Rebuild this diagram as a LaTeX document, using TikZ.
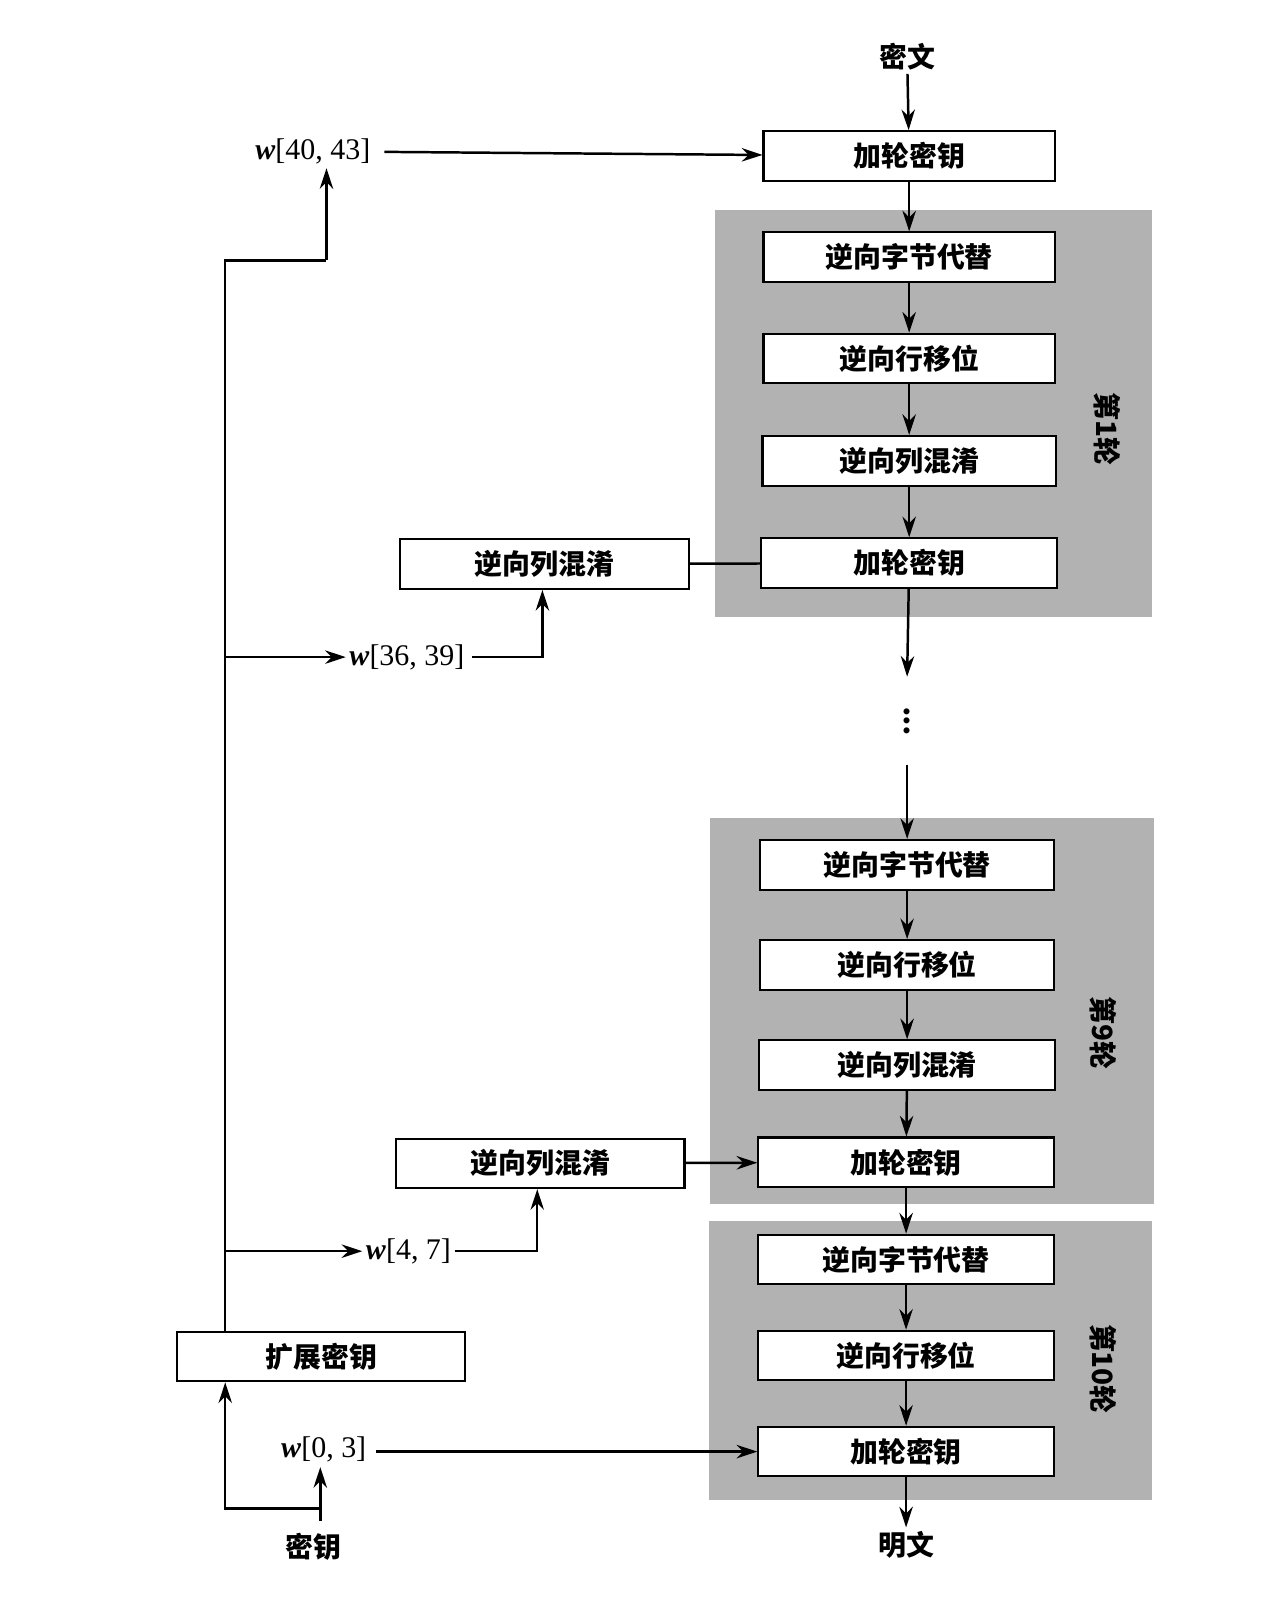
\documentclass[tikz,border=0pt]{standalone}
\usepackage{fontspec}
\setmainfont{Liberation Serif}
\newfontfamily\cjk{Noto Sans CJK SC}
\usetikzlibrary{arrows.meta}
\begin{document}
\begin{tikzpicture}[x=1pt,y=-1pt,
  bx/.style={draw,line width=2pt,fill=white,minimum height=48pt,inner sep=0pt,font=\cjk\bfseries\fontsize{27}{29}\selectfont},
  rnd/.style={fill=gray!60},
  lbl/.style={font=\fontsize{29}{31}\selectfont},
  cl/.style={font=\cjk\bfseries\fontsize{27}{29}\selectfont},
  ar/.style={line width=2.4pt,-{Stealth[length=20pt,width=13pt]}},
  ln/.style={line width=2.4pt}]
\useasboundingbox (0,0) rectangle (1240,1568);
\fill[white] (0,0) rectangle (1240,1568);
% gray rounds
\fill[rnd] (692,203) rectangle (1115,597);
\fill[rnd] (687,792) rectangle (1117,1165);
\fill[rnd] (686,1182) rectangle (1115,1452);
\node[cl,rotate=-90] (r1) at (1072,415) {第1轮};
\node[cl,rotate=-90] (r9) at (1068,1000) {第9轮};
\node[cl,rotate=-90] (r10) at (1068,1325) {第10轮};
% top
\node[cl] (ct) at (878,55) {密文};
\node[bx,minimum width=282pt] (a0) at (880,151) {加轮密钥};
% round 1
\node[bx,minimum width=282pt] (b1) at (880,249) {逆向字节代替};
\node[bx,minimum width=282pt] (b2) at (880,347) {逆向行移位};
\node[bx,minimum width=284pt] (b3) at (880,446) {逆向列混淆};
\node[bx,minimum width=286pt] (b4) at (880,545) {加轮密钥};
\node[bx,minimum width=280pt] (m1) at (527,546) {逆向列混淆};
% dots
\coordinate (d1) at (878,655);
\node[font=\bfseries\fontsize{36}{38}\selectfont] (dots) at (878,698) {\rotatebox{90}{...}};
\coordinate (d2) at (878,740);
% round 9
\node[bx,minimum width=285pt] (c1) at (878,837) {逆向字节代替};
\node[bx,minimum width=285pt] (c2) at (878,934) {逆向行移位};
\node[bx,minimum width=286pt] (c3) at (878,1031) {逆向列混淆};
\node[bx,minimum width=286pt] (c4) at (877,1125) {加轮密钥};
\node[bx,minimum width=279pt] (m9) at (523,1126) {逆向列混淆};
% round 10
\node[bx,minimum width=286pt] (e1) at (877,1219) {逆向字节代替};
\node[bx,minimum width=286pt] (e2) at (877,1312) {逆向行移位};
\node[bx,minimum width=286pt] (e3) at (877,1405) {加轮密钥};
\node[cl] (pt) at (877,1495) {明文};
% key side
\node[bx,minimum width=279pt] (ke) at (311,1313) {扩展密钥};
\node[cl] (key) at (303,1497) {密钥};
\node[lbl,anchor=east] (w0) at (358,1403) {\textbf{\textit{w}}[0, 3]};
\node[lbl,anchor=east] (w4) at (440,1211) {\textbf{\textit{w}}[4, 7]};
\node[lbl,anchor=east] (w36) at (453,636) {\textbf{\textit{w}}[36, 39]};
\node[lbl,anchor=east] (w40) at (362,147) {\textbf{\textit{w}}[40, 43]};
\coordinate (j) at (218,1460);
% connectors main
\draw[ar] (ct) -- (a0);
\draw[ar] (a0) -- (b1);
\draw[ar] (b1) -- (b2);
\draw[ar] (b2) -- (b3);
\draw[ar] (b3) -- (b4);
\draw[ar] (b4) -- (d1);
\draw[ar] (d2) -- (c1);
\draw[ar] (c1) -- (c2);
\draw[ar] (c2) -- (c3);
\draw[ar] (c3) -- (c4);
\draw[ar] (c4) -- (e1);
\draw[ar] (e1) -- (e2);
\draw[ar] (e2) -- (e3);
\draw[ar] (e3) -- (pt);
\draw[ln] (m1) -- (b4);
\draw[ar] (m9) -- (c4);
% key connectors
\draw[ar] (key.north -| 310,0) ++(0,-8) -- (310,1420);
\draw[ar] (310,1460) -- (j) -- (ke.south -| j);
\draw[ar] (w0.east) ++(6,2) -- (e3.west |- 0,1405);
\draw[ln] (ke.north -| j) -- (218,252) -- (316,252);
\draw[ar] (316,252) -- (w40.south -| 316,0);
\draw[ar] (w40.east) ++(10,0) -- (a0.west |- 0,150);
\draw[ar] (218,636) -- (w36.west);
\draw[ar] (w36.east) ++(4,0) -- (525,636) -- (m1.south -| 525,0);
\draw[ar] (218,1211) -- (w4.west);
\draw[ar] (w4.east) ++(0,0) -- (520,1211) -- (m9.south -| 520,0);
\end{tikzpicture}
\end{document}
